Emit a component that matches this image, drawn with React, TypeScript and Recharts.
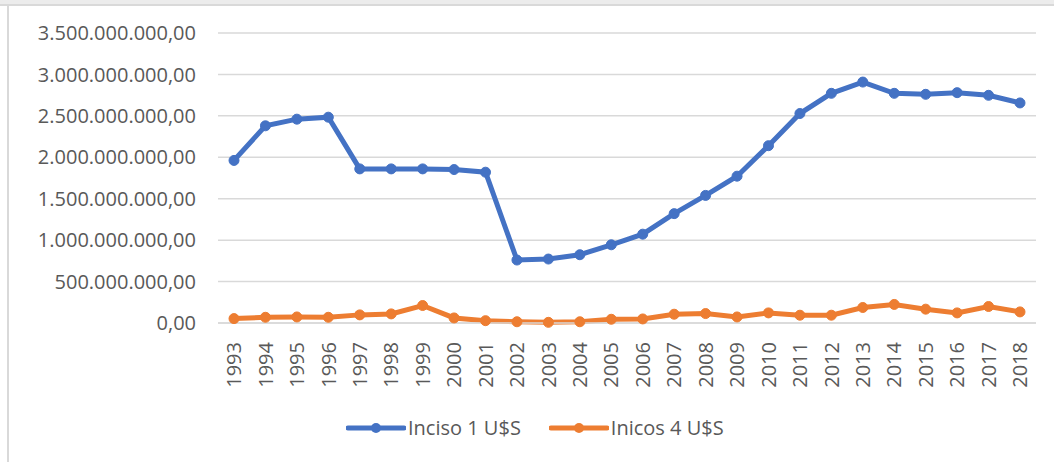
import React from "react";
import { LineChart, Line, XAxis, YAxis, CartesianGrid } from "recharts";

const years = [
  "1993", "1994", "1995", "1996", "1997", "1998", "1999", "2000", "2001", "2002", "2003", "2004", "2005",
  "2006", "2007", "2008", "2009", "2010", "2011", "2012", "2013", "2014", "2015", "2016", "2017", "2018",
];

const inciso1 = [
  1962e6, 2380e6, 2460e6, 2484e6, 1860e6, 1860e6, 1860e6, 1852e6, 1820e6, 760e6, 772e6, 824e6, 944e6,
  1072e6, 1320e6, 1540e6, 1772e6, 2140e6, 2528e6, 2772e6, 2908e6, 2772e6, 2760e6, 2780e6, 2748e6, 2656e6,
];

const inicos4 = [
  53e6, 69e6, 73e6, 69e6, 98e6, 110e6, 211e6, 61e6, 28e6, 15e6, 8e6, 15e6, 45e6,
  49e6, 106e6, 114e6, 73e6, 122e6, 94e6, 94e6, 187e6, 224e6, 167e6, 122e6, 199e6, 134e6,
];

const yTicks = [0, 500e6, 1000e6, 1500e6, 2000e6, 2500e6, 3000e6, 3500e6];

const seriesNames = ["Inciso 1 U$S", "Inicos 4 U$S"];
const seriesColors = ["#4472C4", "#ED7D31"];

const data = years.map((y, i) => ({ year: y, a: inciso1[i], b: inicos4[i] }));

const FONT = "'Open Sans', sans-serif";
const TEXT = "#595959";

function fmt(v: number): string {
  const intPart = Math.round(v).toString();
  const withDots = intPart.replace(/\B(?=(\d{3})+(?!\d))/g, ".");
  return withDots + ",00";
}

const XTick = (props: any) => {
  const { x, y, payload } = props;
  return (
    <g transform={`translate(${x},${y})`}>
      <text
        transform="rotate(-90)"
        x={0}
        y={0}
        dy="0.36em"
        textAnchor="end"
        fill={TEXT}
        fontSize={20}
        fontFamily={FONT}
      >
        {payload.value}
      </text>
    </g>
  );
};

const LegendItem = ({ color, label }: { color: string; label: string }) => (
  <div style={{ display: "flex", alignItems: "center" }}>
    <svg width={60} height={14} style={{ display: "block" }}>
      <line x1={2} y1={7} x2={58} y2={7} stroke={color} strokeWidth={5} strokeLinecap="round" />
      <circle cx={30} cy={7} r={5} fill={color} />
    </svg>
    <span style={{ fontFamily: FONT, fontSize: 20, color: TEXT, marginLeft: 2 }}>{label}</span>
  </div>
);

export default function App() {
  return (
    <div
      style={{
        position: "absolute",
        left: 0,
        top: 0,
        width: 1054,
        height: 462,
        background: "#fff",
        overflow: "hidden",
      }}
    >
      <div style={{ position: "absolute", left: 0, top: 0, width: 1054, height: 4, background: "#ececec" }} />
      <div style={{ position: "absolute", left: 0, top: 4, width: 1054, height: 2, background: "#d9d9d9" }} />
      <div style={{ position: "absolute", left: 7, top: 4, width: 2, height: 458, background: "#d9d9d9" }} />
      <div style={{ position: "absolute", left: 0, top: 0 }}>
        <LineChart
          width={1054}
          height={462}
          data={data}
          margin={{ top: 33, right: 18, left: 0, bottom: 69 }}
        >
          <CartesianGrid vertical={false} stroke="#d9d9d9" strokeWidth={1.5} />
          <XAxis
            dataKey="year"
            interval={0}
            height={70}
            padding={{ left: 16, right: 16 }}
            tickLine={false}
            axisLine={{ stroke: "#d9d9d9", strokeWidth: 1.5 }}
            tick={<XTick />}
            tickMargin={13}
          />
          <YAxis
            width={218}
            domain={[0, 3500e6]}
            ticks={yTicks}
            tickFormatter={fmt}
            tickLine={false}
            axisLine={false}
            tickMargin={16}
            tick={{ fill: TEXT, fontSize: 20, fontFamily: FONT }}
          />
          <Line
            dataKey="a"
            name={seriesNames[0]}
            stroke={seriesColors[0]}
            strokeWidth={5}
            dot={{ r: 5, fill: seriesColors[0], stroke: seriesColors[0], strokeWidth: 1 }}
            activeDot={false}
            isAnimationActive={false}
          />
          <Line
            dataKey="b"
            name={seriesNames[1]}
            stroke={seriesColors[1]}
            strokeWidth={5}
            dot={{ r: 5, fill: seriesColors[1], stroke: seriesColors[1], strokeWidth: 1 }}
            activeDot={false}
            isAnimationActive={false}
          />
        </LineChart>
      </div>
      <div style={{ position: "absolute", left: 346, top: 414, display: "flex", gap: 28 }}>
        <LegendItem color={seriesColors[0]} label={seriesNames[0]} />
        <LegendItem color={seriesColors[1]} label={seriesNames[1]} />
      </div>
    </div>
  );
}
